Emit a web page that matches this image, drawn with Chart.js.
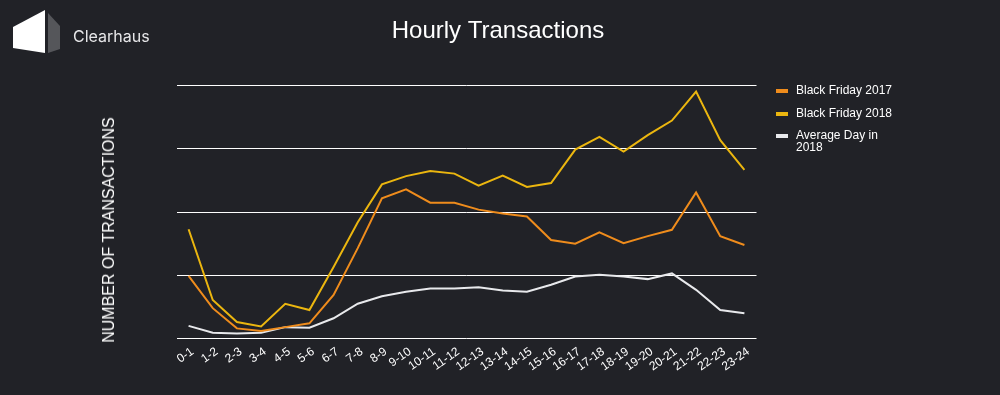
<!DOCTYPE html>
<html><head><meta charset="utf-8">
<script src="https://cdn.jsdelivr.net/npm/chart.js@4"></script>
<style>
html,body{margin:0;padding:0;background:#212227;width:1000px;height:395px;overflow:hidden;font-family:"Liberation Sans",Arial,sans-serif}
#wrap{position:relative;width:1000px;height:395px}
canvas{position:absolute;left:0;top:0}
#logo{position:absolute;left:13px;top:10px}
#brand{position:absolute;left:73px;top:26px;color:#e6e6e8;font:16px/20px Inter,"Noto Sans",sans-serif}
#legend{position:absolute;left:776px;top:84px;width:125px;color:#fff;font-size:12px;line-height:12px}
.item{position:relative;padding-left:20px;margin-bottom:10.5px}
.swatch{position:absolute;left:0;top:5px;width:12px;height:4px}
#ytitle{position:absolute;left:109px;top:230px;transform:translate(-50%,-50%) rotate(-90deg);color:#fff;font-size:16px;white-space:nowrap}
</style></head><body>
<div id="wrap">
<canvas id="c" width="1000" height="395"></canvas>
<svg id="logo" width="50" height="46" viewBox="0 0 50 46"><polygon points="0,17 32,0 32,43 0,38" fill="#fff"/><polygon points="35,3 47,16 47,39 35,43" fill="#55565a"/></svg>
<div id="brand">Clearhaus</div>
<div id="ytitle">NUMBER OF TRANSACTIONS</div>
<div id="legend"></div>
</div>
<script>
const categories=["0-1","1-2","2-3","3-4","4-5","5-6","6-7","7-8","8-9","9-10","10-11","11-12","12-13","13-14","14-15","15-16","16-17","17-18","18-19","19-20","20-21","21-22","22-23","23-24"];
const blackFriday2017=[99,48,16,12,18,24,69,143,222,236,215,215,204,198,193,156,150,168,151,162,172,231,162,148];
const blackFriday2018=[173,61,26,19,55,45,113,184,244,257,265,261,242,258,240,246,299,319,296,322,345,391,314,267];
const averageDay2018=[20,9,8,9,18,17,32,55,67,74,79,79,81,76,74,85,98,101,98,94,103,77,45,40];
const seriesNames=["Black Friday 2017","Black Friday 2018","Average Day in 2018"];
const seriesColors=["#ef8c1c","#ebb60f","#e8e9ec"];
const seriesValues=[blackFriday2017,blackFriday2018,averageDay2018];

document.getElementById('legend').innerHTML=seriesNames.map((n,i)=>
 `<div class="item"><span class="swatch" style="background:${seriesColors[i]}"></span>${n}</div>`).join('');

Chart.defaults.font.family='"Liberation Sans",Arial,sans-serif';
new Chart(document.getElementById('c'),{
 type:'line',
 data:{labels:categories,datasets:seriesNames.map((n,i)=>({label:n,data:seriesValues[i],borderColor:seriesColors[i],backgroundColor:seriesColors[i],borderWidth:2,pointRadius:0,tension:0,fill:false}))},
 options:{
  responsive:false,animation:false,
  layout:{padding:{left:0,right:4,top:0,bottom:0}},
  plugins:{
   legend:{display:false},
   tooltip:{enabled:false},
   title:{display:true,text:'Hourly Transactions',color:'#fff',font:{size:24,weight:'normal'},padding:{top:17,bottom:40}}
  },
  scales:{
   x:{
    offset:true,
    grid:{display:false},border:{display:false},
    ticks:{color:'#fff',font:{size:12},minRotation:35,maxRotation:35,autoSkip:false,padding:-2,labelOffset:4},
    afterFit(s){s.height=56.5;}
   },
   y:{
    min:0,max:400,
    afterFit(s){s.width=176.5;},
    grid:{color:'#fff',lineWidth:1,drawTicks:false},border:{display:false},
    ticks:{display:false,stepSize:100}
   },
   reserve:{
    position:'right',
    afterFit(s){s.width=239.5;},
    grid:{display:false},border:{display:false},
    ticks:{display:false}
   }
  }
 }
});
</script>
</body></html>
